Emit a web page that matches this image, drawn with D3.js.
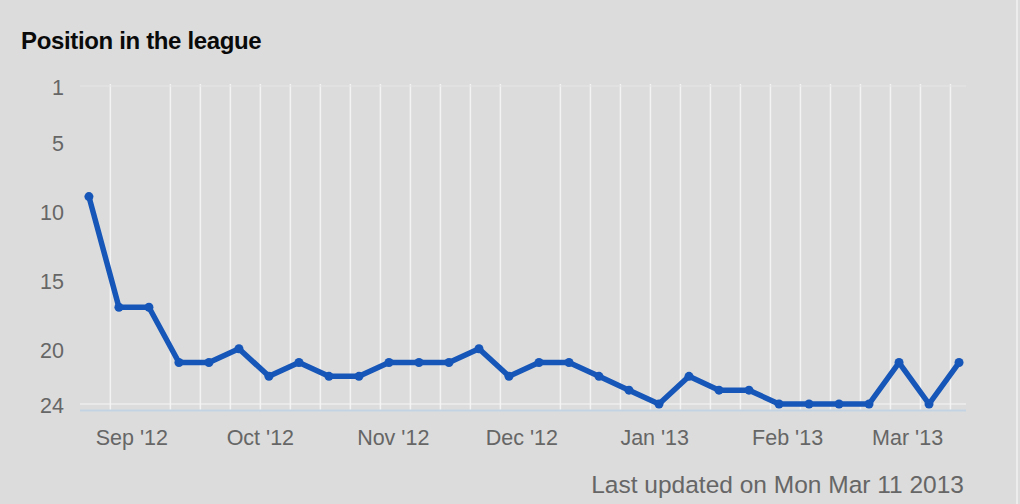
<!DOCTYPE html>
<html>
<head>
<meta charset="utf-8">
<script src="https://cdn.jsdelivr.net/npm/d3@7"></script>
<style>
  html, body { margin: 0; padding: 0; background: #dcdcdc; }
  svg { display: block; font-family: "Liberation Sans", Arial, Helvetica, sans-serif; }
</style>
</head>
<body>
<script>
// match weeks and league position
const matchDates = [
  '2012-08-22', '2012-08-29', '2012-09-05', '2012-09-12', '2012-09-19', '2012-09-26',
  '2012-10-03', '2012-10-10', '2012-10-17', '2012-10-24', '2012-10-31', '2012-11-07',
  '2012-11-14', '2012-11-21', '2012-11-28', '2012-12-05', '2012-12-12', '2012-12-19',
  '2012-12-26', '2013-01-02', '2013-01-09', '2013-01-16', '2013-01-23', '2013-01-30',
  '2013-02-06', '2013-02-13', '2013-02-20', '2013-02-27', '2013-03-06', '2013-03-13'
];
const positions = [
  9, 17, 17, 21, 21, 20, 22, 21, 22, 22, 21, 21, 21, 20, 22,
  21, 21, 22, 23, 24, 22, 23, 23, 24, 24, 24, 24, 21, 24, 21
];

// weekly grid lines (two weeks have none in the original)
const gridWeeks = [
  '2012-08-27', '2012-09-10', '2012-09-17', '2012-09-24', '2012-10-01', '2012-10-08',
  '2012-10-15', '2012-10-22', '2012-10-29', '2012-11-05', '2012-11-12', '2012-11-19',
  '2012-11-26', '2012-12-10', '2012-12-17', '2012-12-24', '2012-12-31', '2013-01-07',
  '2013-01-14', '2013-01-21', '2013-01-28', '2013-02-04', '2013-02-11', '2013-02-18',
  '2013-02-25', '2013-03-04', '2013-03-11'
];
const monthTicks = ['2012-09-01', '2012-10-01', '2012-11-01', '2012-12-01', '2013-01-01', '2013-02-01', '2013-03-01'];
const yTicks = [1, 5, 10, 15, 20, 24];

const title = 'Position in the league';
const footer = 'Last updated on Mon Mar 11 2013';

const width = 1020;
const height = 504;
const plot = { left: 80, right: 966, top: 86, bottom: 404 };

const parse = d3.timeParse('%Y-%m-%d');
const data = matchDates.map((d, i) => ({ date: parse(d), pos: positions[i] }));

const first = data[0].date;
const last = data[data.length - 1].date;
const x = d3.scaleTime()
  .domain([d3.timeHour.offset(first, -50), d3.timeHour.offset(last, 39)])
  .range([plot.left, plot.right]);

const y = d3.scaleLinear()
  .domain([1, 24])
  .range([plot.top, plot.bottom]);

const svg = d3.select('body')
  .append('svg')
  .attr('width', width)
  .attr('height', height);

svg.append('rect')
  .attr('width', width)
  .attr('height', height)
  .attr('fill', '#dcdcdc');

// right frame edge
svg.append('line')
  .attr('x1', 1017).attr('x2', 1017)
  .attr('y1', 0).attr('y2', height)
  .attr('stroke', '#f2f2f2')
  .attr('stroke-width', 1.5);

svg.append('text')
  .attr('x', 21)
  .attr('y', 49)
  .attr('font-size', 24)
  .attr('font-weight', 'bold')
  .attr('letter-spacing', -0.35)
  .attr('fill', '#0a0a0a')
  .text(title);

// vertical grid
svg.append('g')
  .selectAll('line')
  .data(gridWeeks.map(parse))
  .join('line')
    .attr('x1', d => x(d)).attr('x2', d => x(d))
    .attr('y1', plot.top - 2).attr('y2', plot.bottom + 6)
    .attr('stroke', '#f3f3f3')
    .attr('stroke-width', 1.5);

// horizontal lines at the ends of the axis
svg.append('line')
  .attr('x1', plot.left).attr('x2', plot.right)
  .attr('y1', y(1)).attr('y2', y(1))
  .attr('stroke', '#e6e6e6')
  .attr('stroke-width', 1.2);

svg.append('line')
  .attr('x1', plot.left).attr('x2', plot.right)
  .attr('y1', y(24)).attr('y2', y(24))
  .attr('stroke', '#f6f6f6')
  .attr('stroke-width', 1.2);

// x axis line
svg.append('line')
  .attr('x1', plot.left).attr('x2', plot.right)
  .attr('y1', plot.bottom + 6.5).attr('y2', plot.bottom + 6.5)
  .attr('stroke', '#c3d3e3')
  .attr('stroke-width', 2);

// y labels
svg.append('g')
  .attr('font-size', 21.5)
  .attr('fill', '#666')
  .attr('text-anchor', 'end')
  .selectAll('text')
  .data(yTicks)
  .join('text')
    .attr('x', 64)
    .attr('y', d => y(d) + 1.5)
    .attr('dy', '0.36em')
    .text(d => d);

// x labels
const fmt = d3.timeFormat("%b '%y");
svg.append('g')
  .attr('font-size', 21.5)
  .attr('fill', '#666')
  .attr('text-anchor', 'middle')
  .selectAll('text')
  .data(monthTicks.map(parse))
  .join('text')
    .attr('x', d => x(d))
    .attr('y', 445)
    .text(d => fmt(d));

const line = d3.line()
  .x(d => x(d.date))
  .y(d => y(d.pos));

svg.append('path')
  .datum(data)
  .attr('fill', 'none')
  .attr('stroke', '#1656b8')
  .attr('stroke-width', 5.5)
  .attr('stroke-linejoin', 'round')
  .attr('d', line);

svg.append('g')
  .selectAll('circle')
  .data(data)
  .join('circle')
    .attr('cx', d => x(d.date))
    .attr('cy', d => y(d.pos))
    .attr('r', 4.5)
    .attr('fill', '#1656b8');

svg.append('text')
  .attr('x', 964)
  .attr('y', 493)
  .attr('font-size', 24.5)
  .attr('fill', '#666')
  .attr('text-anchor', 'end')
  .text(footer);
</script>
</body>
</html>
